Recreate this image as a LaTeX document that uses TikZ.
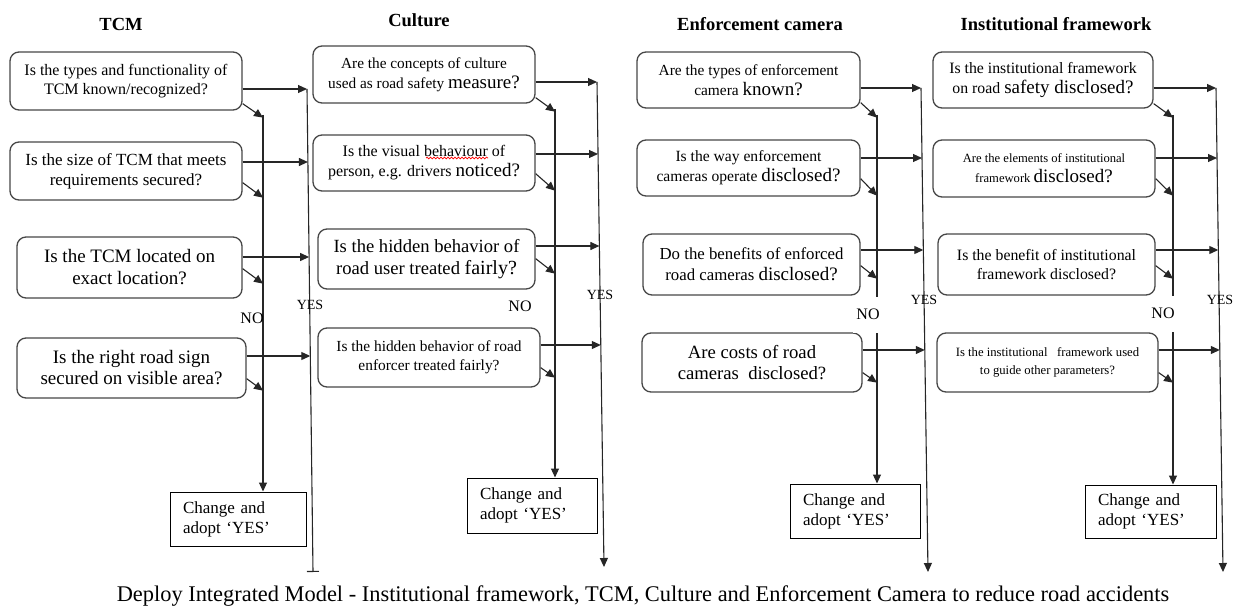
\documentclass[tikz,border=0pt]{standalone}
\usepackage{fontspec}
\setmainfont{Liberation Serif}
\usetikzlibrary{arrows.meta,calc,decorations.pathmorphing}
\newcommand\fsz[2][19]{\fontsize{#2}{#1}\selectfont}
\newcommand\qdiag[4]{\draw[arr] ($(#1.south east)+(0,-#2)$) -- ($(#1.south east -| #4)+(0,#3)$);}
\begin{document}
\begin{tikzpicture}[x=1pt,y=-1pt,
  qbox/.style={draw=black!72, line width=1.3pt, rounded corners=9pt, align=center, inner sep=0pt},
  chg/.style={draw=black, line width=1pt, align=left, inner sep=0pt, font={\fsz[20]{17}}},
  arr/.style={draw=black!85, line width=1.1pt, -{Triangle[length=9pt,width=8pt]}},
  vline/.style={draw=black!85, line width=1.1pt},
  head/.style={font=\bfseries\fsz{18.5}, inner sep=0pt, anchor=base},
  nolbl/.style={font=\fsz{16}, inner sep=0pt},
  yeslbl/.style={font=\fsz{14}, inner sep=0pt}]
\fill[white] (0,0) rectangle (1242,607);
\useasboundingbox (0,0) rectangle (1242,607);

% headers
\node[head] (hA) at (121,31) {TCM};
\node[head] (hB) at (419,27) {Culture};
\node[head] (hC) at (760,31) {Enforcement camera};
\node[head] (hD) at (1056,31) {Institutional framework};

% ---------------- TCM ----------------
\node[qbox, minimum width=232pt, minimum height=58pt, font={\fsz{16}}] (a1) at (126,81) {Is the types and functionality of\\TCM known/recognized?};
\node[qbox, minimum width=232pt, minimum height=58pt, font={\fsz[20]{17}}] (a2) at (126,171) {Is the size of TCM that meets\\requirements secured?};
\node[qbox, minimum width=225pt, minimum height=61pt, font={\fsz[22]{19}}] (a3) at (129.5,267.5) {Is the TCM located on\\exact location?};
\node[qbox, minimum width=229pt, minimum height=60pt, font={\fsz[21]{19}}] (a4) at (131.5,368) {Is the right road sign\\secured on visible area?};
\node[chg, minimum width=136pt, minimum height=54pt, text width=110pt] (ca) at (238,519) {Change and\\adopt `YES'};
\coordinate (nA) at (263,115);
\coordinate (yAt) at (307,89);
\coordinate (yAb) at (313,572);
\coordinate (hA2) at (307.9,162);
\coordinate (hA3) at (309.1,257);
\coordinate (hA4) at (310.3,356);
\draw[arr] (nA) -- (nA |- ca.north);
\draw[vline, -{Bar[width=12pt]}] (yAt) -- (yAb);
\draw[arr] (a1.east |- yAt) -- (yAt);
\draw[arr] (a2.east |- hA2) -- (hA2);
\draw[arr] (a3.east |- hA3) -- (hA3);
\draw[arr] (a4.east |- hA4) -- (hA4);
\qdiag{a1}{7}{7}{nA}
\qdiag{a2}{18}{-3}{nA}
\qdiag{a3}{30}{-15}{nA}
\qdiag{a4}{20}{-8}{nA}
\node[nolbl] (noA) at (252,318) {NO};
\node[yeslbl] (yesA) at (310,305) {YES};

% ---------------- Culture ----------------
\node[qbox, minimum width=222pt, minimum height=57pt, font={\fsz[20]{15.3}}] (b1) at (424,74.5) {Are the concepts of culture\\used as road safety {\fsz[20]{19}measure?}};
\node[qbox, minimum width=222pt, minimum height=56pt, font={\fsz[20]{16}}] (b2) at (424,163) {Is the visual behaviour of\\person, e.g. drivers {\fsz[20]{19}noticed?}};
\node[qbox, minimum width=217pt, minimum height=60pt, font={\fsz[22]{18.6}}] (b3) at (426.5,259) {Is the hidden behavior of\\road user treated {\fsz[22]{20}fairly?}};
\node[qbox, minimum width=222pt, minimum height=59pt, font={\fsz{15.4}}] (b4) at (429,357.5) {Is the hidden behavior of road\\enforcer treated fairly?};
\node[chg, minimum width=130pt, minimum height=55pt, text width=104pt] (cb) at (532,505.5) {Change and\\adopt `YES'};
\coordinate (nB) at (555,109);
\coordinate (yBt) at (597,82);
\coordinate (yBb) at (604,567);
\coordinate (hB2) at (598,154);
\coordinate (hB3) at (599.4,246);
\coordinate (hB4) at (600.8,345);
\draw[arr] (nB) -- (nB |- cb.north);
\draw[arr] (yBt) -- (yBb);
\draw[arr] (b1.east |- yBt) -- (yBt);
\draw[arr] (b2.east |- hB2) -- (hB2);
\draw[arr] (b3.east |- hB3) -- (hB3);
\draw[arr] (b4.east |- hB4) -- (hB4);
\qdiag{b1}{6}{8}{nB}
\qdiag{b2}{18}{-1}{nB}
\qdiag{b3}{31}{-16}{nB}
\qdiag{b4}{20}{-10}{nB}
\draw[red, line width=0.7pt, decorate, decoration={snake, amplitude=0.9pt, segment length=3.5pt}] (426,158) -- (488,158);
\node[nolbl] (noB) at (520,306) {NO};
\node[yeslbl] (yesB) at (600,295) {YES};

% ---------------- Enforcement camera ----------------
\node[qbox, minimum width=223pt, minimum height=56pt, font={\fsz[20]{15.4}}] (c1) at (748.5,80) {Are the types of enforcement\\camera {\fsz[20]{19}known?}};
\node[qbox, minimum width=223pt, minimum height=56pt, font={\fsz[20]{15.6}}] (c2) at (748.5,168) {Is the way enforcement\\cameras operate {\fsz[20]{19}disclosed?}};
\node[qbox, minimum width=217pt, minimum height=61pt, font={\fsz[21]{16.8}}] (c3) at (751.5,264.5) {Do the benefits of enforced\\road cameras {\fsz[21]{19}disclosed?}};
\node[qbox, minimum width=220pt, minimum height=59pt, font={\fsz[21]{18.7}}] (c4) at (752,362.5) {Are costs of road\\cameras\ \ disclosed?};
\node[chg, minimum width=130pt, minimum height=54pt, text width=104pt] (cc) at (855,511) {Change and\\adopt `YES'};
\coordinate (nC) at (877,115);
\coordinate (yCt) at (921,88);
\coordinate (yCb) at (928,572);
\coordinate (hC2) at (922,158);
\coordinate (hC3) at (923.3,250);
\coordinate (hC4) at (924.8,350);
\draw[arr] (nC) -- (nC |- cc.north);
\draw[arr] (yCt) -- (yCb);
\draw[arr] (c1.east |- yCt) -- (yCt);
\draw[arr] (c2.east |- hC2) -- (hC2);
\draw[arr] (c3.east |- hC3) -- (hC3);
\draw[arr] (c4.east |- hC4) -- (hC4);
\qdiag{c1}{6}{9}{nC}
\qdiag{c2}{18}{-1}{nC}
\qdiag{c3}{30}{-17}{nC}
\qdiag{c4}{20}{-10}{nC}
\node[nolbl, fill=white, minimum height=36pt, inner xsep=3pt] (noC) at (868,314.5) {NO};
\node[yeslbl] (yesC) at (924,300) {YES};

% ---------------- Institutional framework ----------------
\node[qbox, minimum width=220pt, minimum height=56pt, font={\fsz[20]{15.8}}] (d1) at (1043,80) {Is the institutional framework\\on road {\fsz[20]{19}safety disclosed?}};
\node[qbox, minimum width=222pt, minimum height=57pt, font={\fsz[20]{12.6}}] (d2) at (1044,168.5) {Are the elements of institutional\\framework {\fsz[20]{19}disclosed?}};
\node[qbox, minimum width=217pt, minimum height=61pt, font={\fsz{15.8}}] (d3) at (1046.5,264.5) {Is the benefit of institutional\\framework disclosed?};
\node[qbox, minimum width=221pt, minimum height=59pt, font={\fsz[18]{12.7}}] (d4) at (1047.5,362.5) {Is the institutional\ \ \ framework used\\to guide other parameters?};
\node[chg, minimum width=131pt, minimum height=53pt, text width=105pt] (cd) at (1150.5,511.5) {Change and\\adopt `YES'};
\coordinate (nD) at (1173,115);
\coordinate (yDt) at (1216,88);
\coordinate (yDb) at (1223,572);
\coordinate (hD2) at (1217,158);
\coordinate (hD3) at (1218.3,250);
\coordinate (hD4) at (1219.8,350);
\draw[arr] (nD) -- (nD |- cd.north);
\draw[arr] (yDt) -- (yDb);
\draw[arr] (d1.east |- yDt) -- (yDt);
\draw[arr] (d2.east |- hD2) -- (hD2);
\draw[arr] (d3.east |- hD3) -- (hD3);
\draw[arr] (d4.east |- hD4) -- (hD4);
\qdiag{d1}{5}{9}{nD}
\qdiag{d2}{19}{-2}{nD}
\qdiag{d3}{30}{-17}{nD}
\qdiag{d4}{20}{-10}{nD}
\node[nolbl, fill=white, minimum height=36pt, inner xsep=3pt] (noD) at (1163,313.5) {NO};
\node[yeslbl] (yesD) at (1220,300) {YES};

% caption
\node[font={\fsz[26]{22.4}}, inner sep=0pt, anchor=base] (cap) at (643,601) {Deploy Integrated Model - Institutional framework, TCM, Culture and Enforcement Camera to reduce road accidents};
\end{tikzpicture}
\end{document}
